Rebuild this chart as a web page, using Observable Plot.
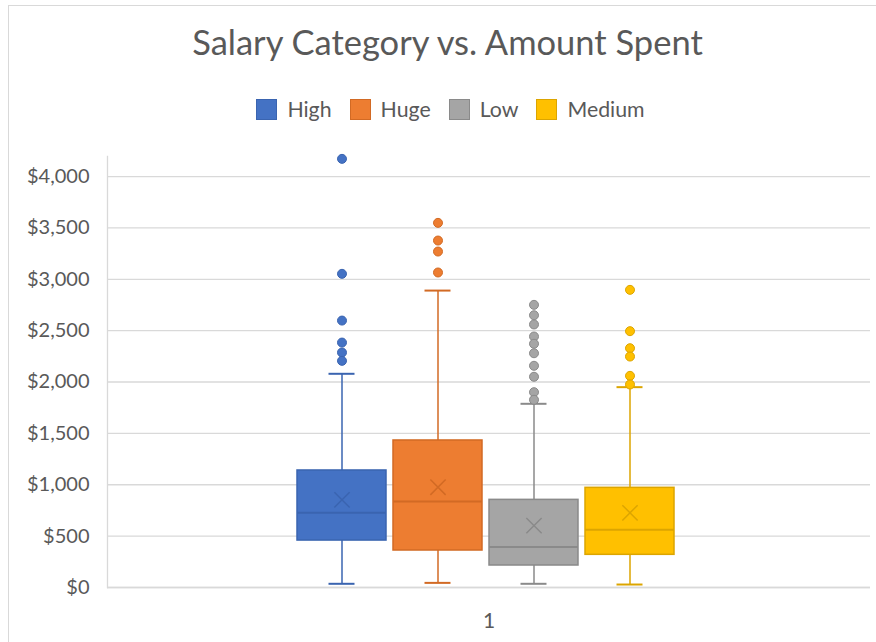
<!DOCTYPE html>
<html>
<head>
<meta charset="utf-8">
<script src="https://cdn.jsdelivr.net/npm/d3@7"></script>
<script src="https://cdn.jsdelivr.net/npm/@observablehq/plot@0.6"></script>
<style>
  html, body { margin: 0; padding: 0; background: #fff; }
  body { width: 876px; height: 642px; overflow: hidden; position: relative; font-family: Lato, "Open Sans", sans-serif; }
  #frame { position: absolute; left: 8px; top: 5px; width: 900px; height: 700px; border: 1px solid #d9d9d9; box-sizing: border-box; }
  #title { position: absolute; left: 0; top: 25px; width: 895px; text-align: center; font-size: 34.5px; line-height: 34.5px; color: #595959; }
  #legend { position: absolute; left: 0; top: 99px; width: 901px; display: flex; justify-content: center; align-items: center; font-size: 21.3px; line-height: 21px; color: #595959; }
  .item { display: flex; align-items: center; margin: 0 9px; }
  .sw { width: 19px; height: 19px; border: 1px solid; margin-right: 10px; }
  #chart { position: absolute; left: 0; top: 140px; }
</style>
</head>
<body>
<div id="frame"></div>
<div id="title"></div>
<div id="legend"></div>
<div id="chart"></div>
<script>
const titleText = "Salary Category vs. Amount Spent";
const categories = ["High", "Huge", "Low", "Medium"];
const colors = ["#4472C4", "#ED7D31", "#A5A5A5", "#FFC000"];
const edgeColors = ["#3A64B0", "#D26A24", "#8A8A8A", "#DCA500"];
const whiskerLow = [36, 45, 36, 29];
const q1 = [457, 360, 214, 318];
const median = [727, 837, 393, 561];
const q3 = [1139, 1431, 853, 970];
const whiskerHigh = [2080, 2890, 1788, 1950];
const mean = [853, 976, 603, 727];
const outliersHigh = [4172, 3053, 2598, 2384, 2287, 2206];
const outliersHuge = [3549, 3377, 3270, 3066];
const outliersLow = [2751, 2650, 2560, 2443, 2372, 2280, 2158, 2051, 1901, 1827];
const outliersMedium = [2897, 2495, 2329, 2248, 2060, 1976];
const yTicks = [0, 500, 1000, 1500, 2000, 2500, 3000, 3500, 4000];
const xTickLabel = "1";

document.getElementById("title").textContent = titleText;
const legend = document.getElementById("legend");
categories.forEach((c, i) => {
  const it = document.createElement("div");
  it.className = "item";
  const sw = document.createElement("div");
  sw.className = "sw";
  sw.style.background = colors[i];
  sw.style.borderColor = edgeColors[i];
  const lb = document.createElement("span");
  lb.textContent = c;
  it.appendChild(sw); it.appendChild(lb);
  legend.appendChild(it);
});

const stats = categories.map((c, i) => ({
  cat: c, lo: whiskerLow[i], q1: q1[i], med: median[i], q3: q3[i], hi: whiskerHigh[i], mean: mean[i],
  fill: colors[i], edge: edgeColors[i]
}));
const outlierLists = [outliersHigh, outliersHuge, outliersLow, outliersMedium];
const outliers = outlierLists.flatMap((arr, i) => arr.map(v => ({cat: categories[i], v, fill: colors[i], edge: edgeColors[i]})));

const plot = Plot.plot({
  width: 876,
  height: 502,
  marginLeft: 107,
  marginRight: 6,
  marginTop: 16,
  marginBottom: 55,
  style: {fontFamily: "Lato, 'Open Sans', sans-serif", fontSize: "20px", color: "#595959", background: "transparent"},
  x: {type: "band", domain: categories, range: [296, 674], paddingInner: 0.077, paddingOuter: 0, axis: null},
  y: {domain: [0, 4195], axis: null},
  marks: [
    Plot.gridY(yTicks, {stroke: "#d9d9d9", strokeOpacity: 1, strokeWidth: 1.3}),
    Plot.frame({anchor: "left", stroke: "#d9d9d9", strokeWidth: 1.3}),
    Plot.ruleY([0], {stroke: "#d9d9d9", strokeWidth: 1.3}),
    Plot.axisY(yTicks, {tickSize: 0, tickPadding: 18, tickFormat: d3.format("$,"), fontSize: 20, fill: "#595959"}),
    Plot.ruleX(stats, {x: "cat", y1: "lo", y2: "q1", stroke: d => d.edge, strokeWidth: 1.5}),
    Plot.ruleX(stats, {x: "cat", y1: "q3", y2: "hi", stroke: d => d.edge, strokeWidth: 1.5}),
    Plot.tickY(stats, {x: "cat", y: "lo", stroke: d => d.edge, strokeWidth: 2, insetLeft: 31.5, insetRight: 31.5}),
    Plot.tickY(stats, {x: "cat", y: "hi", stroke: d => d.edge, strokeWidth: 2, insetLeft: 31.5, insetRight: 31.5}),
    Plot.barY(stats, {x: "cat", y1: "q1", y2: "q3", fill: d => d.fill, stroke: d => d.edge, strokeWidth: 1.5}),
    Plot.tickY(stats, {x: "cat", y: "med", stroke: d => d.edge, strokeWidth: 2}),
    Plot.dot(stats, {x: "cat", y: "mean", symbol: "times", r: 7, stroke: d => d.edge, strokeWidth: 1.5}),
    Plot.dot(outliers, {x: "cat", y: "v", r: 4.5, fill: d => d.fill, stroke: d => d.edge, strokeWidth: 1}),
    Plot.text([xTickLabel], {frameAnchor: "bottom", dy: 33.5, lineAnchor: "middle", fontSize: 21, fill: "#595959", text: d => d})
  ]
});
document.getElementById("chart").appendChild(plot);
</script>
</body>
</html>
